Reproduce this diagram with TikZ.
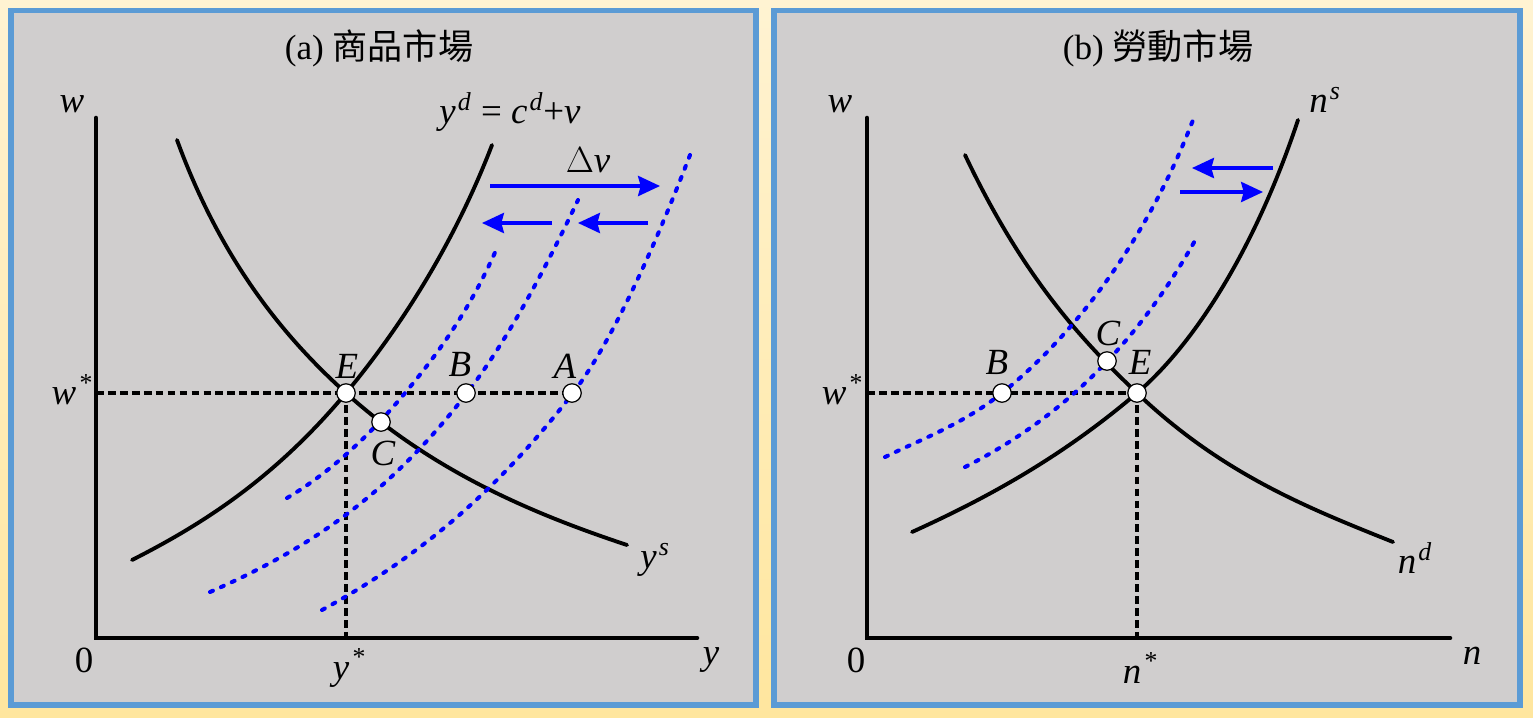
\documentclass[tikz,border=0pt]{standalone}
\usepackage{fontspec}
\setmainfont{Liberation Serif}
\newfontfamily\cjk{Noto Sans CJK TC}
\usepackage{xcolor}
\usepackage{tikz}
\usetikzlibrary{arrows.meta, positioning}

\definecolor{paneledge}{RGB}{91,155,213}
\definecolor{panelgrey}{RGB}{208,206,206}
\definecolor{paperhi}{RGB}{255,243,210}
\definecolor{paperlo}{RGB}{255,230,158}
\newcommand{\supit}[2]{\textit{#1}\kern1.2pt\textsuperscript{\textit{#2}}}

\tikzset{
  panel/.style={draw=paneledge, line width=3.4pt, fill=panelgrey},
  axis/.style={line width=2.6pt, line cap=round},
  curve/.style={line width=2.2pt, line cap=round},
  shifted/.style={blue, line width=2.3pt, line cap=round, dash pattern=on 1.8pt off 5pt},
  guide/.style={line width=1.8pt, dash pattern=on 4.4pt off 2.4pt},
  move/.style={blue, line width=1.8pt, -{Stealth[length=12.5pt, width=11.5pt, inset=1.5pt]}},
  eqpt/.style={circle, draw, fill=white, line width=0.7pt, inner sep=0pt, minimum size=10.5pt},
  lbl/.style={font=\fontsize{21}{25}\selectfont, inner sep=0pt},
  ttl/.style={font=\fontsize{20}{24}\selectfont, inner sep=0pt}
}

\begin{document}
\begin{tikzpicture}[x=0.02cm, y=-0.02cm]
  % Background and panels:
  \useasboundingbox (0,0) rectangle (1533,717);
  \shade[top color=paperhi, bottom color=paperlo] (0,0) rectangle (1533,717);
  \draw[panel] (11,10.5) rectangle (756,705);
  \draw[panel] (773.5,10.5) rectangle (1520,705);
  \node[ttl] (ta) at (379,48) {(a) {\cjk 商品市場}};
  \node[ttl] (tb) at (1158,48) {(b) {\cjk 勞動市場}};

  % Panel (a): axes and guides
  \coordinate (oa) at (96,638);
  \coordinate (ta top) at (96,118);
  \coordinate (ta right) at (697,638);
  \coordinate (wa left) at (96,393);
  \coordinate (ya foot) at (346,638);
  \draw[axis] (ta top) -- (oa) -- (ta right);
  \draw[guide] (wa left) -- (572,393);
  \draw[guide] (346,393) -- (ya foot);

  % Panel (a): curves
  \draw[curve] (132,560) .. controls (203,524) and (275,478) .. (346,393)
                         .. controls (396,333) and (452,249) .. (492,145);
  \draw[curve] (177,140) .. controls (222,263) and (286,339) .. (346,393)
                         .. controls (436,474) and (537,515) .. (627,545);
  \draw[shifted] (287,498) .. controls (326,475) and (366,440) .. (405,393)
                           .. controls (436,356) and (469,312) .. (497,248);
  \draw[shifted] (210,592) .. controls (296,554) and (381,505) .. (467,393)
                           .. controls (504,345) and (541,278) .. (578,200);
  \draw[shifted] (322,610) .. controls (406,564) and (489,502) .. (573,393)
                           .. controls (612,342) and (655,246) .. (690,155);

  % Panel (a): shifts
  \coordinate (dv start) at (490,186);
  \coordinate (dv end) at (660,186);
  \draw[move] (dv start) -- (dv end);
  \draw[move] (552,223) -- (482,223);
  \draw[move] (648,223) -- (578,223);

  % Panel (a): points and labels
  \node[eqpt] (Ea) at (346,393) {};
  \node[eqpt] (Ba) at (466,393) {};
  \node[eqpt] (Aa) at (572,393) {};
  \node[eqpt] (Ca) at (381,422) {};
  \node[lbl] (Ea lbl) at (347,366) {\textit{E}};
  \node[lbl] (Ba lbl) at (460,364) {\textit{B}};
  \node[lbl] (Aa lbl) at (565,366) {\textit{A}};
  \node[lbl] (Ca lbl) at (383,453) {\textit{C}};
  \node[lbl] (wa) at (72,104) {\textit{w}};
  \node[lbl] (za) at (84,660) {0};
  \node[lbl] (ya) at (711,660) {\textit{y}};
  \node[lbl] (wsa) at (72,390) {\supit{w}{*}};
  \node[lbl] (ysa) at (349,668) {\supit{y}{*}};
  \node[lbl] (yd) at (510,112) {\supit{y}{d} = \supit{c}{d}+\textit{v}};
  \node[lbl] (dv) at (588,160) {$\Delta$\textit{v}};
  \node[lbl] (ys) at (655,560) {\supit{y}{s}};

  % Panel (b): axes and guides
  \coordinate (ob) at (867,638);
  \coordinate (tb top) at (867,118);
  \coordinate (tb right) at (1450,638);
  \coordinate (wb left) at (867,393);
  \coordinate (nb foot) at (1137,638);
  \draw[axis] (tb top) -- (ob) -- (tb right);
  \draw[guide] (wb left) -- (1137,393);
  \draw[guide] (1137,393) -- (nb foot);

  % Panel (b): curves
  \draw[curve] (965,155) .. controls (1022,275) and (1080,339) .. (1137,393)
                         .. controls (1222,474) and (1308,508) .. (1393,542);
  \draw[curve] (912,532) .. controls (987,498) and (1062,457) .. (1137,393)
                         .. controls (1191,347) and (1253,255) .. (1298,120);
  \draw[shifted] (885,457) .. controls (924,438) and (963,424) .. (1002,393)
                           .. controls (1066,342) and (1143,250) .. (1193,120);
  \draw[shifted] (965,467) .. controls (1042,428) and (1127,363) .. (1197,237);

  % Panel (b): shifts
  \draw[move] (1273,168) -- (1192,168);
  \draw[move] (1180,192) -- (1263,192);

  % Panel (b): points and labels
  \node[eqpt] (Bb) at (1002,393) {};
  \node[eqpt] (Cb) at (1107,361) {};
  \node[eqpt] (Eb) at (1137,393) {};
  \node[lbl] (Bb lbl) at (997,362) {\textit{B}};
  \node[lbl] (Cb lbl) at (1108,333) {\textit{C}};
  \node[lbl] (Eb lbl) at (1140,362) {\textit{E}};
  \node[lbl] (wb) at (840,104) {\textit{w}};
  \node[lbl] (zb) at (856,660) {0};
  \node[lbl] (nb) at (1472,656) {\textit{n}};
  \node[lbl] (wsb) at (842,390) {\supit{w}{*}};
  \node[lbl] (nsb) at (1140,668) {\supit{n}{*}};
  \node[lbl] (ns) at (1325,100) {\supit{n}{s}};
  \node[lbl] (nd) at (1415,558) {\supit{n}{d}};
\end{tikzpicture}
\end{document}
